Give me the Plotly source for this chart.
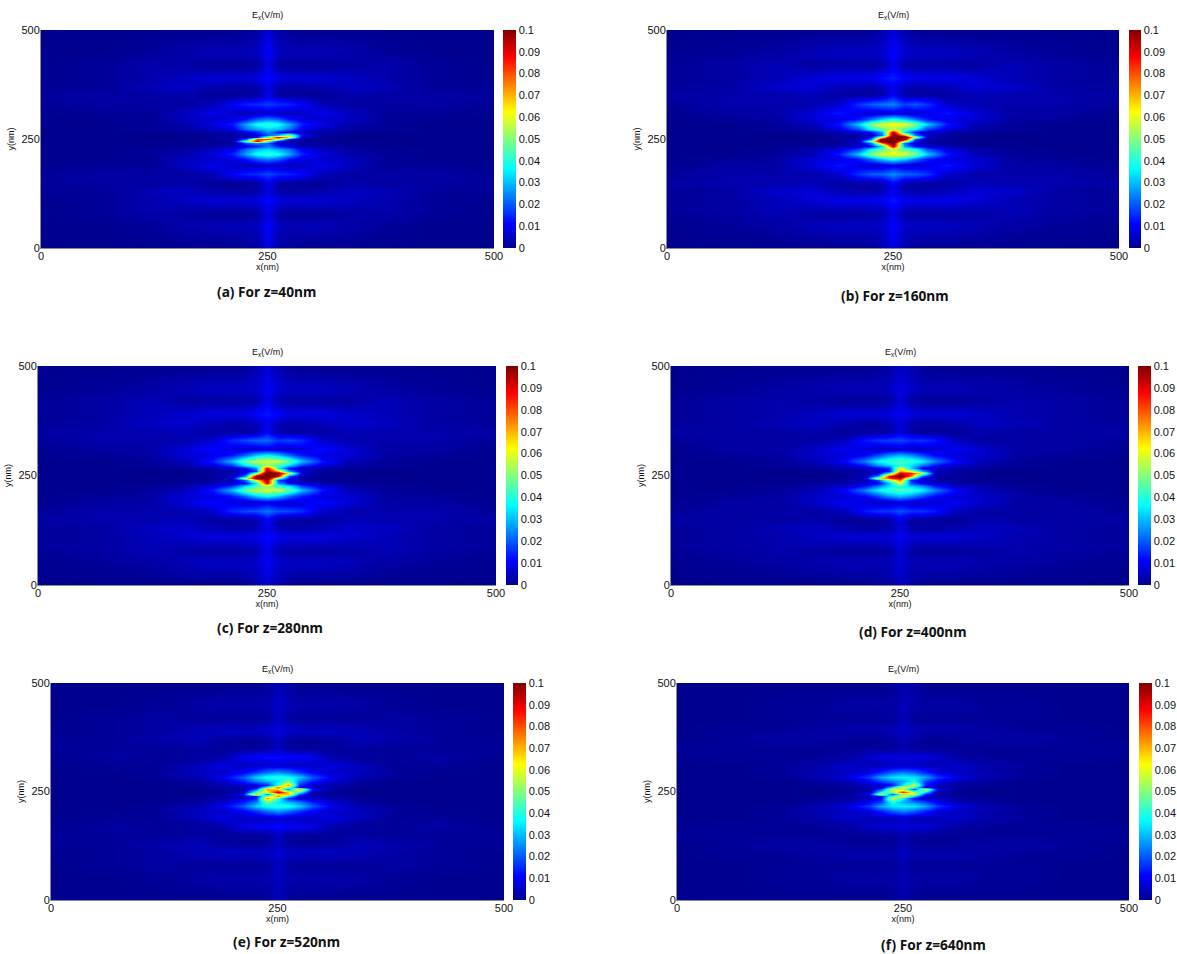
import numpy as np
import plotly.graph_objects as go

X_NM = [0, 70, 120, 160, 190, 212, 226, 238, 250, 262, 274, 288, 310, 340, 380, 430, 500]
Y_NM = [500, 450, 420, 390, 370, 350, 330, 310, 296, 284, 274, 266, 260, 255, 250, 245, 240, 234, 226, 216, 204, 190, 170, 150, 130, 110, 80, 50, 0]
TICKS = [0, 250, 500]
CB_TICKS = [0, 0.01, 0.02, 0.03, 0.04, 0.05, 0.06, 0.07, 0.08, 0.09, 0.1]
CB_LABELS = ["0", "0.01", "0.02", "0.03", "0.04", "0.05", "0.06", "0.07", "0.08", "0.09", "0.1"]
CAPTIONS = ["(a) For z=40nm", "(b) For z=160nm", "(c) For z=280nm", "(d) For z=400nm", "(e) For z=520nm", "(f) For z=640nm"]

# field magnitude, in units of 0.001 V/m
FIELD_A = [
 [0,0,0,0,0,0,1,2,7,2,1,0,0,0,0,0,0],
 [0,0,1,3,4,4,4,5,11,5,4,4,4,3,1,0,0],
 [0,1,3,2,1,1,1,2,8,2,1,1,1,2,3,1,0],
 [0,1,3,5,7,7,7,8,12,8,7,7,7,5,3,1,0],
 [1,1,4,5,3,2,2,3,8,3,2,2,3,5,4,1,1],
 [1,2,2,3,1,1,1,2,9,2,1,1,1,3,2,2,1],
 [1,2,2,2,4,11,14,15,17,15,14,11,4,2,2,2,1],
 [0,1,1,5,9,6,4,5,6,5,4,6,9,5,1,1,0],
 [0,0,1,5,6,8,12,20,24,20,12,8,6,5,1,0,0],
 [0,0,1,3,8,14,28,38,42,38,28,14,8,3,1,0,0],
 [0,0,1,2,5,9,22,28,32,30,22,9,5,2,1,0,0],
 [0,0,0,1,2,4,8,14,26,14,8,4,2,1,0,0,0],
 [0,0,0,0,1,2,4,8,20,30,55,10,2,0,0,0,0],
 [0,0,0,0,1,2,4,14,50,90,62,5,1,0,0,0,0],
 [0,0,0,0,1,2,20,80,82,55,12,2,1,0,0,0,0],
 [0,0,0,0,1,3,48,90,45,12,4,2,1,0,0,0,0],
 [0,0,0,0,1,2,18,25,18,6,3,1,1,0,0,0,0],
 [0,0,0,1,2,4,8,14,24,14,8,4,2,1,0,0,0],
 [0,0,1,2,5,9,22,30,32,28,22,9,5,2,1,0,0],
 [0,0,1,3,8,14,28,38,42,38,28,14,8,3,1,0,0],
 [0,0,1,5,6,8,12,20,24,20,12,8,6,5,1,0,0],
 [0,1,1,5,9,6,4,5,7,5,4,6,9,5,1,1,0],
 [1,2,2,2,4,11,14,15,18,15,14,11,4,2,2,2,1],
 [1,2,2,3,1,1,1,2,9,2,1,1,1,3,2,2,1],
 [1,1,4,5,3,2,2,3,8,3,2,2,3,5,4,1,1],
 [0,1,3,5,7,7,7,8,12,8,7,7,7,5,3,1,0],
 [0,1,3,2,1,1,1,2,8,2,1,1,1,2,3,1,0],
 [0,0,1,3,4,4,4,5,11,5,4,4,4,3,1,0,0],
 [0,0,0,0,0,0,1,2,8,2,1,0,0,0,0,0,0],
]
FIELD_B = [
 [0,0,0,0,0,0,1,3,7,3,1,0,0,0,0,0,0],
 [0,1,2,4,5,5,5,6,11,7,5,5,5,4,2,1,0],
 [1,2,4,2,2,2,2,3,9,3,2,2,2,2,4,2,1],
 [1,2,4,7,9,9,9,12,14,11,9,9,9,7,4,2,1],
 [1,2,6,7,4,3,3,5,9,4,3,3,4,7,6,2,1],
 [2,3,3,4,2,2,2,3,11,3,2,2,2,4,3,3,2],
 [1,3,3,3,6,16,20,23,24,17,20,16,6,3,3,3,1],
 [0,2,2,7,13,8,6,6,8,6,6,8,13,7,2,2,0],
 [0,1,2,7,8,13,22,32,38,32,22,13,8,7,2,1,0],
 [0,0,1,4,13,32,50,60,62,60,50,32,13,4,1,0,0],
 [0,0,1,3,8,20,38,46,55,46,36,18,8,3,1,0,0],
 [0,0,0,1,3,6,12,28,95,35,12,6,3,1,0,0,0],
 [0,0,0,0,2,3,6,22,105,75,24,5,2,0,0,0,0],
 [0,0,0,0,1,3,10,60,115,110,55,5,1,0,0,0,0],
 [0,0,0,0,1,4,22,108,120,105,20,3,1,0,0,0,0],
 [0,0,0,0,1,5,52,112,115,60,10,2,1,0,0,0,0],
 [0,0,0,0,2,5,22,75,105,22,6,3,1,0,0,0,0],
 [0,0,0,1,3,6,12,35,95,28,12,6,3,1,0,0,0],
 [0,0,1,3,8,18,36,46,55,46,38,20,8,3,1,0,0],
 [0,0,1,4,13,32,50,60,62,60,50,32,13,4,1,0,0],
 [0,1,2,7,8,13,22,32,38,32,22,13,8,7,2,1,0],
 [0,2,2,7,13,8,6,6,9,6,6,8,13,7,2,2,0],
 [1,3,3,3,6,16,20,21,25,21,20,16,6,3,3,3,1],
 [2,3,3,4,2,2,2,3,11,3,2,2,2,4,3,3,2],
 [1,2,6,7,4,3,3,4,9,4,3,3,4,7,6,2,1],
 [1,2,4,7,9,9,9,10,13,10,9,9,9,7,4,2,1],
 [1,2,4,2,2,2,2,3,9,3,2,2,2,2,4,2,1],
 [0,1,2,4,5,5,5,6,11,6,5,5,5,4,2,1,0],
 [0,0,0,0,0,0,1,3,8,3,1,0,0,0,0,0,0],
]
FIELD_C = [
 [0,0,0,0,0,0,1,3,7,3,1,0,0,0,0,0,0],
 [0,1,2,4,5,5,5,6,10,7,5,5,5,4,2,1,0],
 [1,2,4,2,2,2,2,3,9,3,2,2,2,2,4,2,1],
 [1,2,4,6,8,8,8,11,13,11,8,8,8,6,4,2,1],
 [1,2,5,6,4,3,3,5,9,4,3,3,4,6,5,2,1],
 [2,3,3,4,2,2,2,3,11,3,2,2,2,4,3,3,2],
 [1,3,3,3,6,15,18,21,22,16,18,15,6,3,3,3,1],
 [0,2,2,7,12,8,6,6,8,6,6,8,12,7,2,2,0],
 [0,1,2,7,8,13,21,31,36,31,21,13,8,7,2,1,0],
 [0,0,1,4,13,30,47,56,58,56,47,30,13,4,1,0,0],
 [0,0,1,3,8,18,35,43,52,44,33,17,8,3,1,0,0],
 [0,0,0,1,3,6,12,26,90,38,12,6,3,1,0,0,0],
 [0,0,0,0,2,3,6,18,98,72,26,5,2,0,0,0,0],
 [0,0,0,0,1,3,9,50,110,100,60,5,1,0,0,0,0],
 [0,0,0,0,1,4,24,100,115,92,18,3,1,0,0,0,0],
 [0,0,0,0,1,5,56,100,108,50,9,2,1,0,0,0,0],
 [0,0,0,0,2,5,20,62,98,18,6,3,1,0,0,0,0],
 [0,0,0,1,3,6,12,36,90,26,12,6,3,1,0,0,0],
 [0,0,1,3,8,17,33,44,52,43,35,18,8,3,1,0,0],
 [0,0,1,4,13,30,47,56,58,56,47,30,13,4,1,0,0],
 [0,1,2,7,8,13,21,31,36,31,21,13,8,7,2,1,0],
 [0,2,2,7,12,8,6,6,9,6,6,8,12,7,2,2,0],
 [1,3,3,3,6,15,18,19,23,19,18,15,6,3,3,3,1],
 [2,3,3,4,2,2,2,3,11,3,2,2,2,4,3,3,2],
 [1,2,5,6,4,3,3,4,9,4,3,3,4,6,5,2,1],
 [1,2,4,6,8,8,8,9,12,9,8,8,8,6,4,2,1],
 [1,2,4,2,2,2,2,3,9,3,2,2,2,2,4,2,1],
 [0,1,2,4,5,5,5,6,10,6,5,5,5,4,2,1,0],
 [0,0,0,0,0,0,1,3,7,3,1,0,0,0,0,0,0],
]
FIELD_D = [
 [0,0,0,0,0,0,1,2,5,3,1,0,0,0,0,0,0],
 [0,1,2,3,4,4,4,5,8,6,4,4,4,3,2,1,0],
 [1,2,3,2,1,1,1,2,7,2,1,1,1,2,3,2,1],
 [1,2,3,5,7,7,7,8,10,8,7,7,7,5,3,2,1],
 [1,2,4,5,3,2,2,4,7,3,2,2,3,5,4,2,1],
 [2,2,2,3,1,1,2,2,8,3,1,1,1,3,2,2,2],
 [1,2,2,2,5,13,16,17,18,15,16,13,5,2,2,2,1],
 [0,2,2,6,10,7,5,5,7,5,5,7,10,6,2,2,0],
 [0,1,2,6,7,11,18,25,29,25,18,11,7,6,2,1,0],
 [0,0,1,4,11,24,36,42,44,42,36,24,11,4,1,0,0],
 [0,0,1,3,6,14,26,32,40,34,24,13,6,3,1,0,0],
 [0,0,0,1,3,5,10,16,62,32,10,5,3,1,0,0,0],
 [0,0,0,0,2,3,6,12,72,58,30,5,2,0,0,0,0],
 [0,0,0,0,1,3,8,38,92,86,58,5,1,0,0,0,0],
 [0,0,0,0,1,4,26,88,105,76,20,3,1,0,0,0,0],
 [0,0,0,0,1,5,58,82,92,40,9,2,1,0,0,0,0],
 [0,0,0,0,2,4,18,50,76,14,6,3,1,0,0,0,0],
 [0,0,0,1,3,5,10,30,60,18,10,5,3,1,0,0,0],
 [0,0,1,3,6,13,24,34,40,32,26,14,6,3,1,0,0],
 [0,0,1,4,11,24,36,42,44,42,36,24,11,4,1,0,0],
 [0,1,2,6,7,11,18,25,30,25,18,11,7,6,2,1,0],
 [0,2,2,6,10,7,5,5,8,5,5,7,10,6,2,2,0],
 [1,2,2,2,5,13,16,16,19,16,16,13,5,2,2,2,1],
 [2,2,2,3,1,1,2,2,9,2,2,1,1,3,2,2,2],
 [1,2,4,5,3,2,2,3,7,3,2,2,3,5,4,2,1],
 [1,2,3,5,7,7,7,7,10,7,7,7,7,5,3,2,1],
 [1,2,3,2,1,1,1,2,7,2,1,1,1,2,3,2,1],
 [0,1,2,3,4,4,4,4,7,4,4,4,4,3,2,1,0],
 [0,0,0,0,0,0,1,2,5,2,1,0,0,0,0,0,0],
]
FIELD_E = [
 [0,0,0,0,0,0,0,1,4,2,0,0,0,0,0,0,0],
 [0,0,1,2,3,3,3,3,6,4,3,3,3,2,1,0,0],
 [0,1,2,1,1,1,1,2,5,2,1,1,1,1,2,1,0],
 [0,1,2,4,5,5,5,6,8,6,5,5,5,4,2,1,0],
 [1,1,3,4,2,1,1,2,5,2,1,1,2,4,3,1,1],
 [1,1,1,2,1,1,1,2,5,2,1,1,1,2,1,1,1],
 [0,2,1,1,3,9,11,12,12,11,11,9,3,1,1,2,0],
 [0,1,1,4,8,5,5,6,6,6,5,5,8,4,1,1,0],
 [0,0,1,5,6,10,16,22,25,22,16,10,6,5,1,0,0],
 [0,0,1,3,9,20,32,38,40,38,32,20,9,3,1,0,0],
 [0,0,0,2,6,14,24,30,34,46,24,14,6,2,0,0,0],
 [0,0,0,1,3,6,8,14,42,74,16,6,3,1,0,0,0],
 [0,0,0,0,2,3,8,38,76,50,12,3,2,0,0,0,0],
 [0,0,0,0,1,3,20,72,64,22,72,12,2,0,0,0,0],
 [0,0,0,0,1,4,44,62,95,66,40,4,1,0,0,0,0],
 [0,0,0,0,2,12,72,22,64,70,20,3,1,0,0,0,0],
 [0,0,0,0,2,4,14,50,76,38,8,3,2,0,0,0,0],
 [0,0,0,1,3,6,14,74,42,14,8,6,3,1,0,0,0],
 [0,0,0,2,6,14,24,46,34,30,24,14,6,2,0,0,0],
 [0,0,1,3,9,20,32,38,40,38,32,20,9,3,1,0,0],
 [0,0,1,5,6,10,16,22,26,22,16,10,6,5,1,0,0],
 [0,1,1,4,8,5,5,5,6,5,5,5,8,4,1,1,0],
 [0,2,1,1,3,8,10,10,12,10,10,8,3,1,1,2,0],
 [1,1,1,2,1,1,1,2,5,2,1,1,1,2,1,1,1],
 [1,1,3,4,2,1,1,2,5,2,1,1,2,4,3,1,1],
 [0,1,2,4,5,5,5,5,7,5,5,5,5,4,2,1,0],
 [0,1,2,1,1,1,1,2,5,2,1,1,1,1,2,1,0],
 [0,0,1,2,3,3,3,3,5,3,3,3,3,2,1,0,0],
 [0,0,0,0,0,0,0,1,4,1,0,0,0,0,0,0,0],
]
FIELD_F = [
 [0,0,0,0,0,0,0,1,3,2,0,0,0,0,0,0,0],
 [0,0,1,1,2,2,2,2,4,3,2,2,2,1,1,0,0],
 [0,0,1,1,1,1,1,1,4,1,1,1,1,1,1,0,0],
 [0,1,1,2,3,3,3,4,5,4,3,3,3,2,1,1,0],
 [0,1,2,2,1,1,1,2,4,2,1,1,1,2,2,1,0],
 [1,1,1,1,1,1,1,1,3,1,1,1,1,1,1,1,1],
 [0,1,1,1,2,6,8,8,8,8,8,6,2,1,1,1,0],
 [0,0,1,3,6,4,4,5,5,5,4,4,6,3,1,0,0],
 [0,0,1,4,5,8,14,20,23,20,14,8,5,4,1,0,0],
 [0,0,1,3,8,17,28,34,36,34,28,17,8,3,1,0,0],
 [0,0,0,2,4,10,18,24,28,38,18,10,4,2,0,0,0],
 [0,0,0,1,2,5,7,12,36,60,14,5,2,1,0,0,0],
 [0,0,0,0,1,3,6,32,62,42,10,3,1,0,0,0,0],
 [0,0,0,0,1,3,18,60,52,18,60,10,1,0,0,0,0],
 [0,0,0,0,1,4,38,50,85,55,34,3,1,0,0,0,0],
 [0,0,0,0,1,10,60,18,52,58,16,2,1,0,0,0,0],
 [0,0,0,0,2,4,12,42,62,32,6,3,1,0,0,0,0],
 [0,0,0,1,2,5,12,60,36,12,7,5,2,1,0,0,0],
 [0,0,0,2,4,10,18,38,28,24,18,10,4,2,0,0,0],
 [0,0,1,3,8,17,28,34,36,34,28,17,8,3,1,0,0],
 [0,0,1,4,5,8,14,20,24,20,14,8,5,4,1,0,0],
 [0,0,1,3,6,4,4,4,5,4,4,4,6,3,1,0,0],
 [0,1,1,1,2,5,7,7,8,7,7,5,2,1,1,1,0],
 [1,1,1,1,1,1,1,1,3,1,1,1,1,1,1,1,1],
 [0,1,2,2,1,1,1,1,4,1,1,1,1,2,2,1,0],
 [0,1,1,2,3,3,3,3,5,3,3,3,3,2,1,1,0],
 [0,0,1,1,1,1,1,1,3,1,1,1,1,1,1,0,0],
 [0,0,1,1,2,2,2,2,4,2,2,2,2,1,1,0,0],
 [0,0,0,0,0,0,0,1,3,1,0,0,0,0,0,0,0],
]
FIELDS = [FIELD_A, FIELD_B, FIELD_C, FIELD_D, FIELD_E, FIELD_F]

W, H = 1177, 954
# left, right, top, bottom of plot; colorbar left, right; caption centre x, y
BOXES = [
    (41, 494, 30, 248, 503, 516, 266, 291),
    (667, 1119, 30, 248, 1129, 1141, 895, 295),
    (38, 496, 366, 585, 506, 518, 270, 627),
    (671, 1129, 366, 585, 1138, 1151, 913, 631),
    (51, 504, 683, 900, 513, 526, 286, 941),
    (677, 1129, 683, 900, 1139, 1152, 933, 944),
]
JET = [[0, "rgb(0,0,143)"], [0.11, "rgb(0,0,255)"], [0.365, "rgb(0,255,255)"],
       [0.625, "rgb(255,255,0)"], [0.875, "rgb(255,0,0)"], [1, "rgb(128,0,0)"]]
SANS = "Liberation Sans, Arial, sans-serif"

fig = go.Figure()
ann = []
for i, (box, field, cap) in enumerate(zip(BOXES, FIELDS, CAPTIONS)):
    l, r, t, b, cl, cr, cx, cy = box
    n = "" if i == 0 else str(i + 1)
    z = (np.array(field[::-1], dtype=float) / 1000.0)
    fig.add_trace(go.Heatmap(
        x=X_NM, y=Y_NM[::-1], z=z, zmin=0, zmax=0.1, zsmooth="best",
        colorscale=JET, xaxis="x" + n, yaxis="y" + n, hoverinfo="skip",
        colorbar=dict(
            x=cl / W, xanchor="left", xref="paper",
            y=1 - b / H, yanchor="bottom", yref="paper",
            len=(b - t) / H, lenmode="fraction",
            thickness=cr - cl, thicknessmode="pixels",
            xpad=0, ypad=0, outlinewidth=0, ticks="", ticklen=0,
            tickmode="array", tickvals=CB_TICKS, ticktext=CB_LABELS,
            tickfont=dict(family=SANS, size=11, color="#111"),
        ),
    ))
    common = dict(range=[0, 500], tickmode="array", tickvals=TICKS, ticktext=[str(v) for v in TICKS],
                  showgrid=False, zeroline=False, showline=True, linecolor="#8a8a8a", linewidth=1,
                  ticks="", ticklabelstandoff=-2, tickfont=dict(family=SANS, size=11, color="#111"))
    fig.update_layout({
        "xaxis" + n: dict(common, domain=[l / W, r / W], anchor="y" + n,
                          title=dict(text="x(nm)", font=dict(family=SANS, size=9, color="#111"), standoff=0)),
        "yaxis" + n: dict(common, domain=[1 - b / H, 1 - t / H], anchor="x" + n,
                          title=dict(text="y(nm)", font=dict(family=SANS, size=9, color="#111"), standoff=5)),
    })
    ann.append(dict(text="E<sub>x</sub>(V/m)", xref="paper", yref="paper", x=(l + r) / 2 / W, y=1 - (t - 14) / H,
                    showarrow=False, xanchor="center", yanchor="middle",
                    font=dict(family=SANS, size=9, color="#111")))
    ann.append(dict(text="<b>" + cap + "</b>", xref="paper", yref="paper", x=cx / W, y=1 - cy / H,
                    showarrow=False, xanchor="center", yanchor="middle",
                    font=dict(family="Noto Sans", size=13.7, color="#111")))

fig.update_layout(width=W, height=H, margin=dict(l=0, r=0, t=0, b=0, autoexpand=False), autosize=False,
                  paper_bgcolor="white", plot_bgcolor="white", annotations=ann, showlegend=False)
fig.write_html("out.html", config={"displayModeBar": False},
               post_script="document.body.style.margin='0';document.body.style.overflow='hidden';")
